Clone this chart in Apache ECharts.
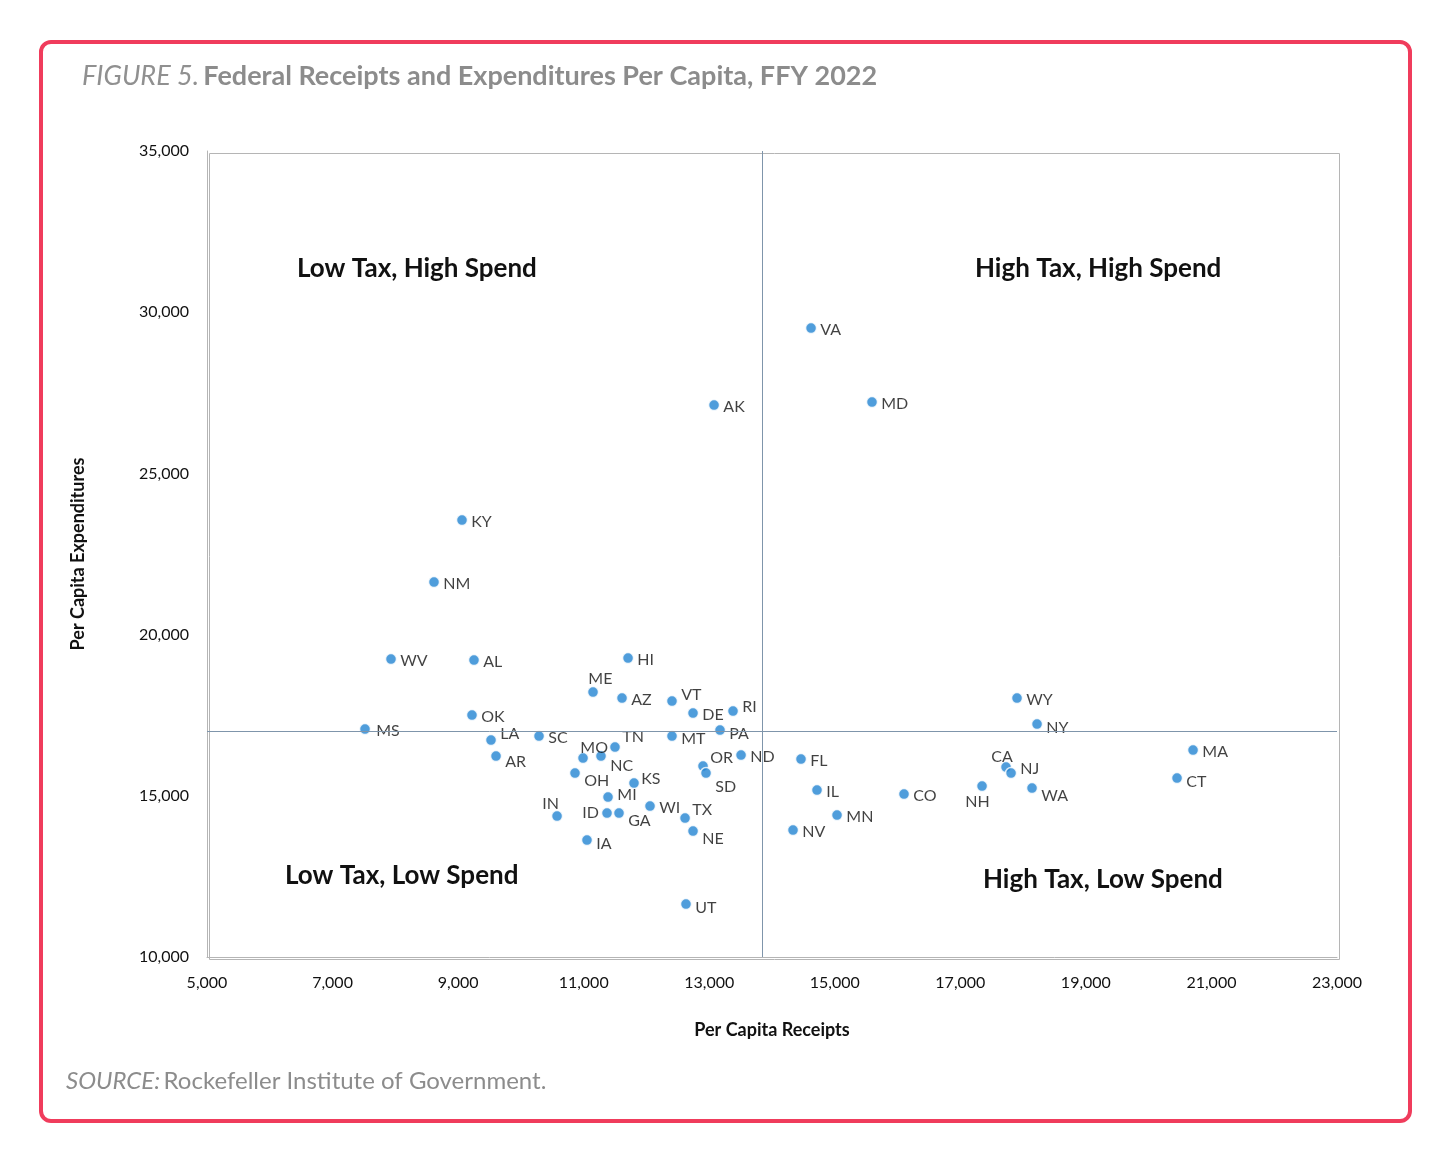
<!DOCTYPE html>
<html><head><meta charset="utf-8">
<script src="https://cdn.jsdelivr.net/npm/echarts@6/dist/echarts.min.js"></script>
<style>
html,body{margin:0;padding:0;background:#fff;}
#frame{position:absolute;left:39px;top:40px;width:1365px;height:1075px;border:4px solid #f03c5c;border-radius:12px;}
#chart{position:absolute;left:0;top:0;width:1451px;height:1168px;}
</style></head>
<body>
<div id="frame"></div>
<div id="chart"></div>
<script>
// states, receipts (x), expenditures (y)
const states = ['VA','MD','AK','KY','NM','WV','AL','HI','ME','AZ','VT','DE','RI','WY','NY','OK','MS','LA','SC','TN','MT','PA','MO','NC','AR','ND','FL','OR','SD','OH','KS','MI','WI','IL','CO','MN','IN','ID','GA','TX','NE','NV','IA','UT','CA','NJ','NH','WA','MA','CT'];
const receipts = [14622,15593,13077,9062,8616,7931,9253,11707,11149,11611,12407,12742,13379,17903,18222,9221,7517,9524,10289,11499,12407,13172,10990,11276,9604,13507,14462,12901,12949,10862,11802,11388,12057,14717,16103,15036,10576,11372,11563,12615,12742,14335,11053,12630,17728,17808,17346,18142,20707,20452];
const expenditures = [29509,27214,27121,23553,21630,19242,19211,19273,18218,18032,17939,17567,17629,18032,17225,17505,17070,16729,16853,16512,16853,17039,16171,16233,16233,16264,16140,15923,15706,15706,15396,14961,14682,15178,15054,14403,14372,14465,14465,14310,13906,13937,13627,11642,15892,15706,15303,15240,16419,15551];
const avgReceipts = 13841;
const avgExpenditures = 17010;

// label offsets for crowded points
const labelOffsets = {
  ME:[-14,-13], MO:[-12,-10], TN:[-2,-10], CA:[-24,-10], NH:[-26,16], SD:[0,14],
  OR:[-2,-8], IN:[-24,-12], ID:[-34,0], GA:[0,8], IA:[0,4], OH:[0,8], LA:[0,-6],
  AR:[0,6], NC:[0,10], NY:[0,4], WA:[0,8], CT:[0,4], MS:[2,2], NE:[0,8], UT:[0,4],
  TX:[-2,-8], KS:[-2,-4], MI:[0,-2], MT:[0,3], PA:[0,4], NJ:[0,-4], RI:[0,-4],
  VT:[0,-6], MN:[0,2], NV:[0,2], CO:[0,2], IL:[0,2]
};

const points = states.map((s, i) => ({
  name: s,
  value: [receipts[i], expenditures[i]],
  label: { offset: labelOffsets[s] || [0, 2] }
}));

const font = 'Lato, "Open Sans", sans-serif';
const chart = echarts.init(document.getElementById('chart'));
chart.setOption({
  animation: false,
  textStyle: { fontFamily: font },
  title: {
    left: 77, top: 58,
    text: '{i|FIGURE 5.} {b|Federal Receipts and Expenditures Per Capita, FFY 2022}',
    textStyle: { rich: {
      i: { fontStyle: 'italic', fontWeight: 'normal', fontSize: 27, color: '#909090', fontFamily: font },
      b: { fontWeight: 'bold', fontSize: 27, color: '#8c8c8c', fontFamily: font }
    }}
  },
  grid: { left: 207, right: 114, top: 151, bottom: 211 },
  xAxis: {
    type: 'value', min: 5000, max: 23000, interval: 2000,
    name: 'Per Capita Receipts', nameLocation: 'middle', nameGap: 64,
    nameTextStyle: { fontWeight: 'bold', fontSize: 18, color: '#111' },
    axisLine: { show: true, lineStyle: { color: '#b5b5b5' } },
    axisTick: { show: false },
    splitLine: { show: false },
    axisLabel: { fontSize: 16, color: '#111', margin: 18,
      formatter: v => v.toLocaleString('en-US') }
  },
  yAxis: {
    type: 'value', min: 10000, max: 35000, interval: 5000,
    name: 'Per Capita Expenditures', nameLocation: 'middle', nameGap: 120,
    nameTextStyle: { fontWeight: 'bold', fontSize: 18, color: '#111' },
    axisLine: { show: true, lineStyle: { color: '#b5b5b5' } },
    axisTick: { show: false },
    splitLine: { show: false },
    axisLabel: { fontSize: 16, color: '#111', margin: 18,
      formatter: v => v.toLocaleString('en-US') }
  },
  graphic: [
    { type: 'rect', left: 207, top: 151, shape: { width: 1130, height: 806 },
      style: { fill: 'none', stroke: '#b5b5b5', lineWidth: 1 }, z: -1 },
    { type: 'text', left: 297, top: 256, style: { text: 'Low Tax, High Spend', font: 'bold 26px ' + font, fill: '#111' } },
    { type: 'text', left: 975, top: 256, style: { text: 'High Tax, High Spend', font: 'bold 26px ' + font, fill: '#111' } },
    { type: 'text', left: 285, top: 863, style: { text: 'Low Tax, Low Spend', font: 'bold 26px ' + font, fill: '#111' } },
    { type: 'text', left: 983, top: 867, style: { text: 'High Tax, Low Spend', font: 'bold 26px ' + font, fill: '#111' } },
    { type: 'text', left: 66, top: 1069, style: {
      rich: { i: { fontStyle: 'italic', fontSize: 24, fill: '#8c8c8c', fontFamily: font },
              n: { fontSize: 24, fill: '#8c8c8c', fontFamily: font } },
      text: '{i|SOURCE:} {n|Rockefeller Institute of Government.}' } }
  ],
  series: [{
    type: 'scatter',
    data: points,
    symbolSize: 11,
    itemStyle: { color: '#2385d2', borderColor: '#fff', borderWidth: 1.5 },
    label: { show: true, position: 'right', distance: 3, formatter: '{b}', fontSize: 16, color: '#111' },
    markLine: {
      silent: true, symbol: 'none', label: { show: false },
      lineStyle: { color: '#7f95ab', type: 'solid', width: 1 },
      data: [{ xAxis: avgReceipts }, { yAxis: avgExpenditures }]
    }
  }]
});
</script>
</body></html>
